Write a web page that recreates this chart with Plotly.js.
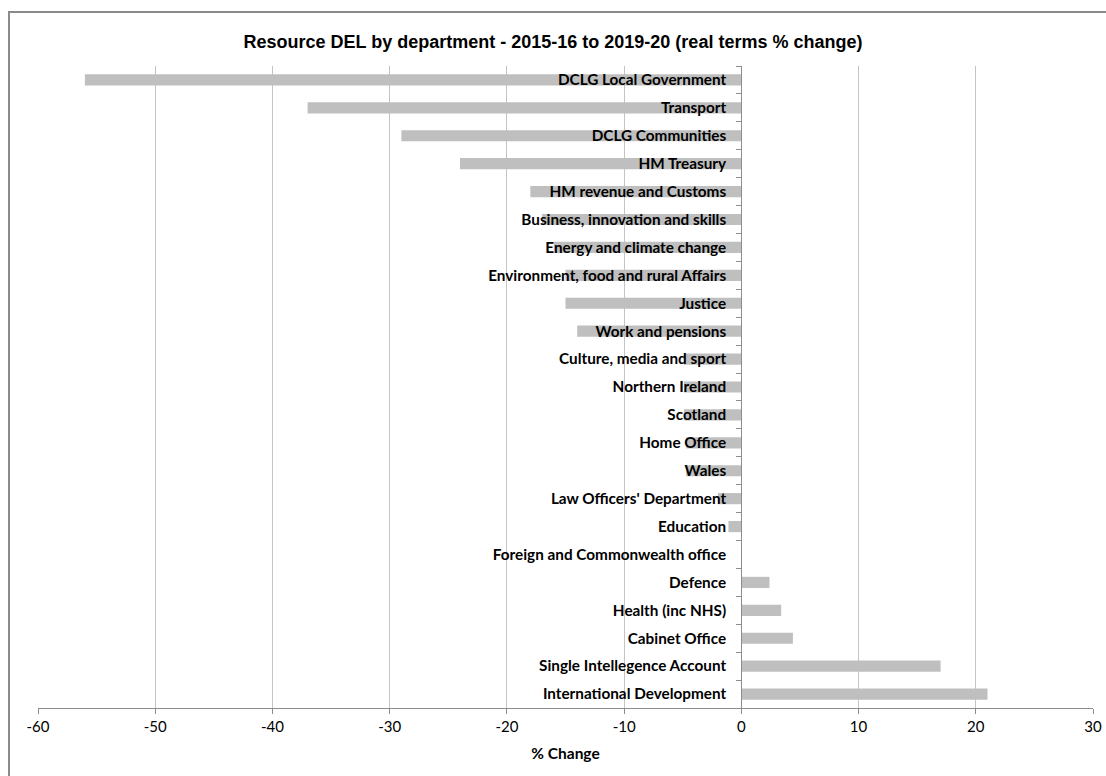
<!DOCTYPE html>
<html>
<head>
<meta charset="utf-8">
<script src="https://cdn.plot.ly/plotly-3.0.1.min.js"></script>
<style>html,body{margin:0;padding:0;background:#fff;}#chart{width:1106px;height:776px;}</style>
</head>
<body>
<div id="chart"></div>
<script>
const departments = [
  "DCLG Local Government",
  "Transport",
  "DCLG Communities",
  "HM Treasury",
  "HM revenue and Customs",
  "Business, innovation and skills",
  "Energy and climate change",
  "Environment, food and rural Affairs",
  "Justice",
  "Work and pensions",
  "Culture, media and sport",
  "Northern Ireland",
  "Scotland",
  "Home Office",
  "Wales",
  "Law Officers' Department",
  "Education",
  "Foreign and Commonwealth office",
  "Defence",
  "Health (inc NHS)",
  "Cabinet Office",
  "Single Intellegence Account",
  "International Development"
];
const pctChange = [-56, -37, -29, -24, -18, -17, -16, -15, -15, -14, -4.9, -4.9, -4.9, -4.7, -4.7, -2, -1.1, 0, 2.4, 3.4, 4.4, 17, 21];
const xTicks = [-60, -50, -40, -30, -20, -10, 0, 10, 20, 30];

const labelFont = "Lato, 'Open Sans', sans-serif";
const data = [{
  type: 'bar',
  orientation: 'h',
  y: departments,
  x: pctChange,
  marker: {color: '#bfbfbf'},
  hoverinfo: 'x+y'
}];

const layout = {
  width: 1106, height: 776,
  margin: {l: 38, r: 13, t: 66, b: 68},
  paper_bgcolor: '#ffffff',
  plot_bgcolor: '#ffffff',
  showlegend: false,
  bargap: 0.6,
  title: {
    text: 'Resource DEL by department - 2015-16 to 2019-20 (real terms % change)',
    font: {family: "'Liberation Sans Narrow', 'Arial Narrow', 'Liberation Sans', sans-serif", size: 18, color: '#000', weight: 'bold'},
    x: 0.5, xanchor: 'center', y: 0.946, yanchor: 'middle'
  },
  xaxis: {
    range: [-60, 30],
    tickvals: xTicks,
    ticktext: xTicks.map(String),
    showgrid: true, gridcolor: '#c4c4c4', gridwidth: 1,
    zeroline: false,
    showline: true, linecolor: '#8c8c8c', linewidth: 1,
    ticks: 'outside', ticklen: 5, tickcolor: '#8c8c8c',
    tickfont: {family: labelFont, size: 15, color: '#000'},
    title: {text: '% Change', font: {family: labelFont, size: 15.5, color: '#000', weight: 'bold'}, standoff: 14},
    fixedrange: true
  },
  yaxis: {
    type: 'category',
    autorange: 'reversed',
    anchor: 'free',
    position: 703.2 / 1055,
    showline: true, linecolor: '#8c8c8c', linewidth: 1,
    showgrid: false,
    ticks: 'outside', ticklen: 5, tickcolor: '#8c8c8c',
    tickson: 'boundaries',
    ticklabelstandoff: 12,
    tickfont: {family: labelFont, size: 15.3, color: '#000', weight: 'bold'},
    fixedrange: true
  },
  shapes: [{
    type: 'rect', xref: 'paper', yref: 'paper',
    x0: (9 - 38) / 1055, x1: 1.2, y0: -0.2, y1: (708 - 12) / 642,
    line: {color: '#8a8a8a', width: 2}, fillcolor: 'rgba(0,0,0,0)', layer: 'above'
  }]
};

Plotly.newPlot('chart', data, layout, {displayModeBar: false, staticPlot: true});
</script>
</body>
</html>
